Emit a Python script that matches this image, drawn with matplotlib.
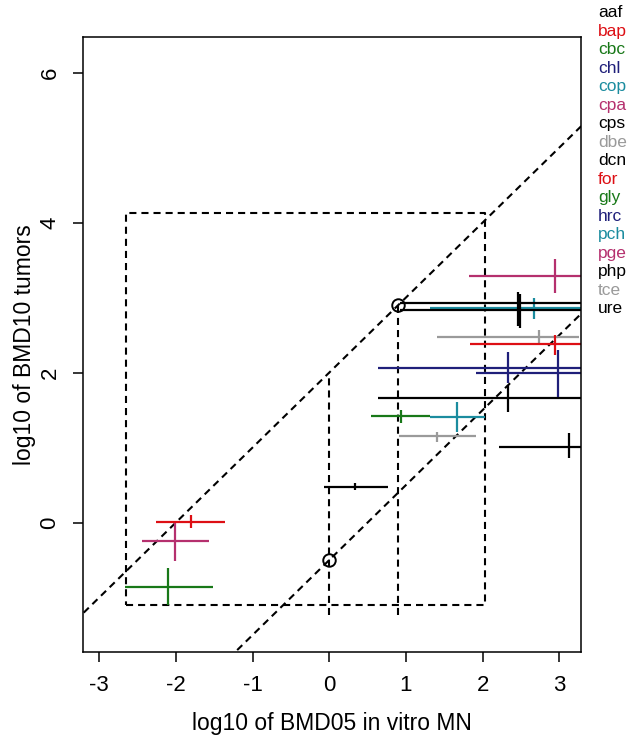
import matplotlib
matplotlib.use('Agg')
import matplotlib.pyplot as plt

######################################################
# Data (log10 BMD05 in vitro MN  vs  log10 BMD10 tumors)
######################################################

chems = ['aaf', 'bap', 'cbc', 'chl', 'cop', 'cpa', 'cps', 'dbe', 'dcn',
         'for', 'gly', 'hrc', 'pch', 'pge', 'php', 'tce', 'ure']
colors = ['#000000', '#DD0F14', '#187818', '#1F1F7A', '#1B8C9F', '#B5306E',
          '#000000', '#9A9A9A', '#000000', '#DD0F14', '#187818', '#1F1F7A',
          '#1B8C9F', '#B5306E', '#000000', '#9A9A9A', '#000000']

x_mid = [0.335, -1.80, 0.93, 2.33, 2.67, -2.01, 2.46, 2.73, 2.33,
         2.94, -2.10, 2.98, 1.66, 2.95, 2.49, 1.41, 3.13]
x_lo = [-0.065, -2.26, 0.55, 0.64, 1.31, -2.44, 0.92, 1.40, 0.64,
        1.83, -2.66, 1.91, 1.31, 1.82, 0.92, 0.91, 2.21]
x_hi = [0.76, -1.36, 1.31, 4.0, 4.0, -1.57, 4.0, 3.26, 4.0,
        4.0, -1.52, 4.1, 2.03, 4.1, 4.0, 1.92, 4.0]

y_mid = [0.48, 0.005, 1.42, 2.06, 2.86, -0.24, 2.93, 2.48, 1.66,
         2.38, -0.86, 2.00, 1.41, 3.29, 2.83, 1.16, 1.01]
y_lo = [0.44, -0.07, 1.33, 1.86, 2.72, -0.51, 2.62, 2.37, 1.48,
        2.24, -1.10, 1.68, 1.21, 3.06, 2.60, 1.08, 0.86]
y_hi = [0.53, 0.10, 1.50, 2.28, 3.00, -0.01, 3.08, 2.57, 1.84,
        2.50, -0.61, 2.30, 1.61, 3.51, 3.05, 1.21, 1.20]

# reference guides
diag_offsets = [2.0, -0.5]
box_x = [-2.65, 2.03]
box_y = [-1.1, 4.13]
vert_x = [0.0, 0.9]
vert_top = [2.0, 2.9]
vert_bottom = -1.23
circle_x = [0.9, 0.0]
circle_y = [2.9, -0.5]

XLIM = (-3.215, 3.278)
YLIM = (-1.73, 6.47)
DASH = (0, (3.4, 2.4))

plt.rcParams['font.family'] = ['Liberation Sans', 'DejaVu Sans']
plt.rcParams['axes.unicode_minus'] = False

fig = plt.figure(figsize=(6.33, 7.42), dpi=100)
ax = fig.add_axes([0.1306, 0.1209, 0.7867, 0.8288])

######################################################
# Dashed guides
######################################################
for off in diag_offsets:
    ax.plot([XLIM[0] - 1, XLIM[1] + 1], [XLIM[0] - 1 + off, XLIM[1] + 1 + off],
            color='k', lw=1.5, linestyle=DASH)

ax.plot([box_x[0], box_x[1], box_x[1], box_x[0], box_x[0]],
        [box_y[0], box_y[0], box_y[1], box_y[1], box_y[0]],
        color='k', lw=1.5, linestyle=DASH)

for vx, vt in zip(vert_x, vert_top):
    ax.plot([vx, vx], [vert_bottom, vt], color='k', lw=1.5, linestyle=DASH)

ax.plot(circle_x, circle_y, 'o', mfc='none', mec='k', ms=9, mew=1.4)

######################################################
# Crosses
######################################################
for i in range(len(chems)):
    ax.hlines(y_mid[i], x_lo[i], x_hi[i], color=colors[i], lw=1.6)
    ax.vlines(x_mid[i], y_lo[i], y_hi[i], color=colors[i], lw=1.6)

ax.set_xlim(*XLIM)
ax.set_ylim(*YLIM)
ax.set_xticks([-3, -2, -1, 0, 1, 2, 3])
ax.set_yticks([0, 2, 4, 6])
ax.tick_params(direction='out', length=7, width=1.1, labelsize=16, pad=9)
for lab in ax.get_yticklabels():
    lab.set_rotation(90)
    lab.set_va('center')
for sp in ax.spines.values():
    sp.set_linewidth(1.1)

ax.set_xlabel('log10 of BMD05 in vitro MN', fontsize=16.5, labelpad=12)
ax.set_ylabel('log10 of BMD10 tumors', fontsize=16.5, labelpad=2.5)

######################################################
# Chemical key on the right
######################################################
for i, name in enumerate(chems):
    y_px = 12.7 + 18.5 * i
    fig.text(598 / 633, 1 - y_px / 742, name, color=colors[i],
             fontsize=12.5, ha='left', va='center')

fig.savefig('out.png', dpi=100)
